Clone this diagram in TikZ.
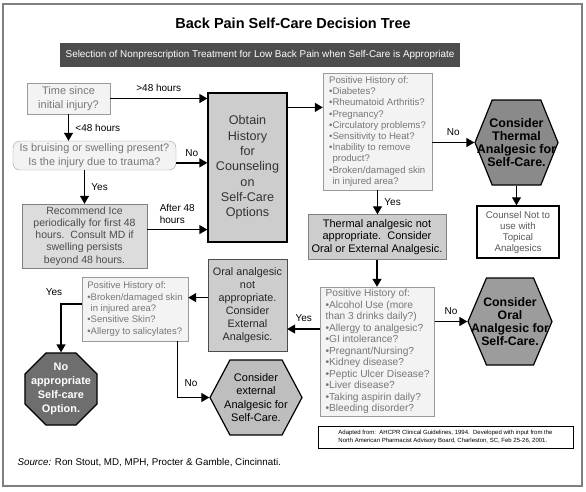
\documentclass[tikz,border=0pt]{standalone}
\usepackage{fontspec}
\setmainfont{Liberation Sans}
\usetikzlibrary{arrows.meta, shapes.geometric, shapes.symbols, calc}

\definecolor{frameGray}{HTML}{7F7F7F}
\definecolor{bannerGray}{HTML}{4D4D4D}
\definecolor{paleFill}{HTML}{F3F3F3}
\definecolor{paleLine}{HTML}{9A9A9A}
\definecolor{paleText}{HTML}{777777}
\definecolor{iceFill}{HTML}{DCDCDC}
\definecolor{midFill}{HTML}{CDCDCD}
\definecolor{hexDark}{HTML}{8A8A8A}
\definecolor{hexMid}{HTML}{9C9C9C}
\definecolor{hexLight}{HTML}{BEBEBE}
\definecolor{stopFill}{HTML}{6E6E6E}

\newcommand{\setfs}[2]{\fontsize{#1}{#2}\selectfont}

\begin{document}
\begin{tikzpicture}[
    x=1pt, y=-1pt, >={Triangle[length=8pt, width=9pt]},
    paleq/.style={draw=paleLine, fill=paleFill, text=paleText,
                  align=center, inner sep=2pt},
    history/.style={draw=paleLine, fill=paleFill, text=paleText,
                    align=left, inner xsep=5pt, inner ysep=2pt},
    greybox/.style={draw, fill=midFill, align=center, inner sep=2pt},
    hexa/.style={signal, signal to=west and east, draw=black,
                 line width=1.2pt, inner sep=0pt},
    flow/.style={->, line width=1.3pt},
    lbl/.style={font=\setfs{10}{12}},
  ]
  \useasboundingbox (0,0) rectangle (586,491);
  \draw[frameGray, line width=2pt] (3,4) rectangle (582,486);

  \node[font=\setfs{14.5}{17}\bfseries] (title) at (293,23)
    {Back Pain Self-Care Decision Tree};
  \node[fill=bannerGray, text=white, font=\setfs{9.9}{12},
        minimum width=400pt, minimum height=24pt] (banner) at (260,55)
    {Selection of Nonprescription Treatment for Low Back Pain when Self-Care is Appropriate};

  % left column
  \node[paleq, font=\setfs{11}{13.5}, minimum width=83pt,
        minimum height=31pt] (since) at (68.5,98.5)
    {Time since\\initial injury?};
  \node[paleq, rounded corners=7pt, font=\setfs{10.9}{14.3},
        minimum width=163pt, minimum height=29pt] (bruise) at (94.5,155.5)
    {Is bruising or swelling present?\\Is the injury due to trauma?};
  \node[paleq, fill=iceFill, draw=gray, text=black!70,
        font=\setfs{10.5}{12.2}, minimum width=125pt,
        minimum height=64pt] (ice) at (84.5,236)
    {Recommend Ice\\periodically for first 48\\hours.\ \ Consult MD if\\
     swelling persists\\beyond 48 hours.};

  \node[greybox, line width=1.3pt, text=black!80, font=\setfs{12.6}{15.3},
        minimum width=79pt, minimum height=149pt] (obtain) at (247.5,167.5)
    {Obtain\\History\\for\\Counseling\\on\\Self-Care\\Options};

  % right column
  \node[history, font=\setfs{9.6}{11.2}, minimum width=109pt,
        minimum height=117pt] (histone) at (377.5,131.5)
    {Positive History of:\\•Diabetes?\\•Rheumatoid Arthritis?\\
     •Pregnancy?\\•Circulatory problems?\\•Sensitivity to Heat?\\
     •Inability to remove\\\phantom{•}product?\\
     •Broken/damaged skin\\\phantom{•}in injured area?};
  \node[hexa, fill=hexDark, minimum width=83pt, minimum height=85pt,
        signal pointer angle=136] (thermal) at (516.5,142.5) {};
  \node[font=\setfs{12.5}{13}\bfseries, align=center] (thermaltxt)
    at (thermal.center) {Consider\\Thermal\\Analgesic for\\Self-Care.};
  \node[draw, line width=1.5pt, fill=white, text=black!65, align=center,
        font=\setfs{9.7}{11}, minimum width=82pt,
        minimum height=52pt] (counsel) at (518,232)
    {Counsel Not to\\use with\\Topical\\Analgesics};
  \node[greybox, draw=gray, font=\setfs{11}{12.5}, minimum width=138pt,
        minimum height=45pt] (notherm) at (377,237)
    {Thermal analgesic not\\appropriate.\ \ Consider\\
     Oral or External Analgesic.};

  \node[history, font=\setfs{10.2}{11.5}, minimum width=111pt,
        minimum height=129pt] (histtwo) at (377.5,351.5)
    {Positive History of:\\•Alcohol Use (more\\than 3 drinks daily?)\\
     •Allergy to analgesic?\\•GI intolerance?\\•Pregnant/Nursing?\\
     •Kidney disease?\\•Peptic Ulcer Disease?\\•Liver disease?\\
     •Taking aspirin daily?\\•Bleeding disorder?};
  \node[hexa, fill=hexMid, minimum width=84pt, minimum height=87pt,
        signal pointer angle=134] (oral) at (510,321.5) {};
  \node[font=\setfs{12.3}{12.8}\bfseries, align=center] (oraltxt)
    at (oral.center) {Consider\\Oral\\Analgesic for\\Self-Care.};

  \node[greybox, draw=black!70, text=black!85, font=\setfs{10.8}{13.1},
        minimum width=79pt, minimum height=92pt] (nooral) at (247.5,305)
    {Oral analgesic\\not\\appropriate.\\Consider\\External\\Analgesic.};
  \node[history, font=\setfs{9.5}{11.3}, minimum width=106pt,
        minimum height=64pt] (histthree) at (135,309)
    {Positive History of:\\•Broken/damaged skin\\\phantom{•}in injured area?\\
     •Sensitive Skin?\\•Allergy to salicylates?};
  \node[regular polygon, regular polygon sides=8, minimum size=78pt,
        draw, line width=1.2pt, fill=stopFill, inner sep=0pt]
    (noopt) at (61,389) {};
  \node[font=\setfs{10.9}{13.9}\bfseries, text=white, align=center]
    (nooptxt) at (noopt.center) {No\\appropriate\\Self-care\\Option.};
  \node[hexa, fill=hexLight, minimum width=92pt, minimum height=75pt,
        signal pointer angle=124] (ext) at (256,397.5) {};
  \node[font=\setfs{11}{13.6}, align=center] (exttxt)
    at (ext.center) {Consider\\external\\Analgesic for\\Self-Care.};

  \node[draw, line width=0.6pt, fill=white, align=left, font=\setfs{6}{8.3},
        minimum width=255pt, minimum height=22pt, inner xsep=5pt]
    (adapted) at (445.5,437)
    {Adapted from:\ \ AHCPR Clinical Guidelines, 1994.\ \ Developed with input from the\\
     North American Pharmacist Advisory Board, Charleston, SC, Feb 25-26, 2001.};
  \node[anchor=west, font=\setfs{9.8}{12}] (source) at (14,463)
    {\textit{Source:} Ron Stout, MD, MPH, Procter \& Gamble, Cincinnati.};

  % connectors
  \draw[flow] (since.east) -- node[lbl, above=3pt] {>48 hours}
    (since.east -| obtain.west);
  \draw[flow] (since.south) -- node[lbl, right=3pt] {<48 hours}
    (since.south |- bruise.north);
  \draw[flow] ($(bruise.north east)!0.75!(bruise.south east)$) coordinate (noA)
    -- node[lbl, above=2pt] {No} (noA -| obtain.west);
  \draw[flow] (ice.north |- bruise.south) -- node[lbl, right=3pt] {Yes}
    (ice.north);
  \draw[flow] ($(ice.north east)!0.4!(ice.south east)$) coordinate (aftA)
    -- node[lbl, above=2pt, align=left] {After 48\\hours} (aftA -| obtain.west);
  \draw[flow] ($(obtain.north east)!0.1!(obtain.south east)$) coordinate (obA)
    -- (obA -| histone.west);
  \draw[flow] (thermal.west -| histone.east) -- node[lbl, above=3pt] {No}
    (thermal.west);
  \draw[flow] (thermal.south) -- (thermal.south |- counsel.north);
  \draw[flow] (histone.south) -- node[lbl, right=3pt] {Yes}
    (histone.south |- notherm.north);
  \draw[flow] (notherm.south) -- (notherm.south |- histtwo.north);
  \draw[flow] (oral.west -| histtwo.east) -- node[lbl, above=3pt] {No}
    (oral.west);
  \coordinate (yA) at ($(nooral.north east)!0.76!(nooral.south east)$);
  \draw[flow] (yA -| histtwo.west) -- node[lbl, above=3pt] {Yes} (yA);
  \draw[flow] ($(nooral.north west)!0.42!(nooral.south west)$) coordinate (orA)
    -- (orA -| histthree.east);
  \draw[flow] ($(histthree.north west)!0.42!(histthree.south west)$)
    -| node[lbl, pos=0.5, above=4pt, xshift=-7pt] {Yes} (noopt.north);
  \draw[flow] ($(histthree.south west)!0.9!(histthree.south east)$)
    |- node[lbl, pos=0.5, above right=3pt, yshift=4pt] {No} (ext.west);
\end{tikzpicture}
\end{document}
